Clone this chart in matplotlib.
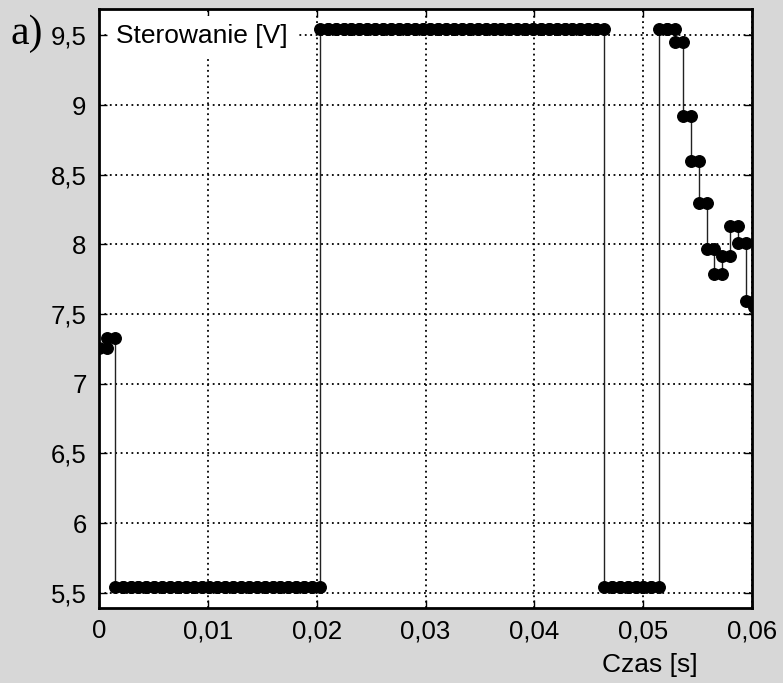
import numpy as np
import matplotlib.pyplot as plt
from matplotlib.ticker import FuncFormatter

# sampling period of the control signal [s]
Ts = 0.000725

# control value held during each sampling interval [V]
u = ([7.26, 7.33]
     + [5.54] * 26
     + [9.55] * 36
     + [5.54] * 7
     + [9.55, 9.55, 9.455, 8.925, 8.60, 8.30, 7.97, 7.79, 7.92, 8.135, 8.01, 7.595, 7.548])

x_ticks = [0, 0.01, 0.02, 0.03, 0.04, 0.05, 0.06]
y_ticks = [5.5, 6, 6.5, 7, 7.5, 8, 8.5, 9, 9.5]

u = np.array(u)
t_start = np.arange(len(u)) * Ts
# each interval is drawn as two points: begin and end of the hold
t_pts = np.column_stack([t_start, t_start + Ts]).ravel()
u_pts = np.repeat(u, 2)

fig = plt.figure(figsize=(7.83, 6.83), dpi=100)
fig.patch.set_facecolor('#d7d7d7')
ax = fig.add_axes([99 / 783, 75 / 683, 653 / 783, 599 / 683])
ax.set_facecolor('white')

ax.plot(t_pts, u_pts, color='#222222', lw=1.0, marker='o', ms=8.3,
        mfc='black', mec='black', zorder=3)

ax.set_xlim(0, 0.06)
ax.set_ylim(5.39, 9.69)
ax.set_xticks(x_ticks)
ax.set_yticks(y_ticks)

fmt = FuncFormatter(lambda v, p: ('%g' % v).replace('.', ','))
ax.xaxis.set_major_formatter(fmt)
ax.yaxis.set_major_formatter(fmt)

ax.grid(True, color='black', linestyle=(0, (1, 2)), lw=1.3)
ax.tick_params(direction='in', length=6, width=1, top=True, right=True,
               labelsize=18.5, colors='black')
ax.tick_params(axis='y', pad=9)
ax.tick_params(axis='x', pad=8)
for lab in ax.get_xticklabels() + ax.get_yticklabels():
    lab.set_fontfamily('Liberation Sans')
for s in ax.spines.values():
    s.set_linewidth(2)
    s.set_color('black')

ax.text(0.026, 0.955, 'Sterowanie [V]', transform=ax.transAxes,
        fontsize=19, family='Liberation Sans', va='center', ha='left',
        bbox=dict(facecolor='white', edgecolor='none', pad=6), zorder=4)

fig.text(650 / 783, 1 - 665 / 683, 'Czas [s]', fontsize=19,
         family='Liberation Sans', ha='center', va='center')
fig.text(11 / 783, 1 - 44 / 683, 'a)', fontsize=30,
         family='Liberation Serif', ha='left', va='baseline')

fig.savefig('out.png', dpi=100, facecolor=fig.get_facecolor())
